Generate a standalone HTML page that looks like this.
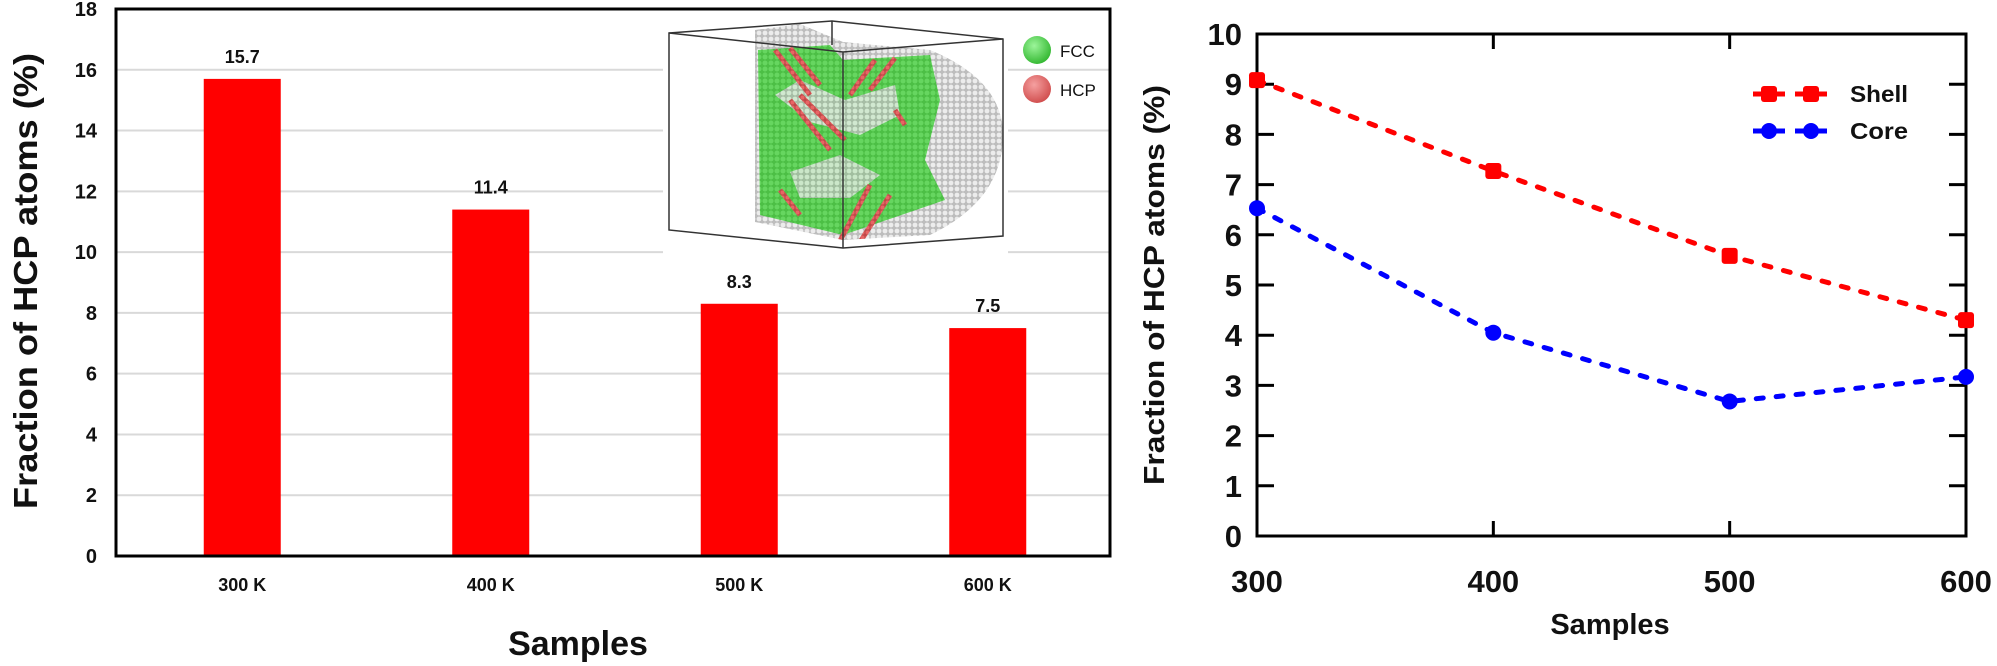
<!DOCTYPE html>
<html><head><meta charset="utf-8"><style>
html,body{margin:0;padding:0;background:#fff;}
svg{display:block;font-family:"Liberation Sans",sans-serif;font-weight:bold;}
</style></head><body>
<svg id="fig" width="1997" height="666" viewBox="0 0 1997 666" xmlns="http://www.w3.org/2000/svg">
<defs>
<pattern id="greyAtoms" width="6" height="6" patternUnits="userSpaceOnUse"><rect width="6" height="6" fill="#bdbdbd"/><circle cx="3" cy="3" r="2.4" fill="#ececec"/></pattern>
<pattern id="greenAtoms" width="6" height="6" patternUnits="userSpaceOnUse"><rect width="6" height="6" fill="#4cbf45"/><circle cx="3" cy="3" r="2.5" fill="#66d660"/></pattern>
<pattern id="redAtoms" width="5" height="5" patternUnits="userSpaceOnUse"><rect width="5" height="5" fill="#c04848"/><circle cx="2.5" cy="2.5" r="2" fill="#e86464"/></pattern>
<radialGradient id="gBall" cx="0.4" cy="0.35" r="0.7"><stop offset="0" stop-color="#9cf59a"/><stop offset="1" stop-color="#2fb52d"/></radialGradient>
<radialGradient id="rBall" cx="0.4" cy="0.35" r="0.7"><stop offset="0" stop-color="#f5a0a0"/><stop offset="1" stop-color="#cf4a4a"/></radialGradient>
<clipPath id="atomClip"><path d="M755,30 L800,24 L843,42 L930,50 Q1003,80 1003,135 Q1003,200 930,235 L843,240 L755,222 Z"/></clipPath>
</defs>
<g id="left"></g>
<g id="inset">
  <rect x="663" y="14" width="345" height="240" fill="#fff"/>
  <g clip-path="url(#atomClip)">
    <rect x="750" y="20" width="260" height="230" fill="url(#greyAtoms)"/>
    <path d="M758,50 L830,45 L843,60 L930,55 L940,100 L925,160 L945,200 L843,235 L760,215 Z" fill="url(#greenAtoms)"/>
    <path d="M775,95 L800,80 L845,100 L895,85 L900,115 L860,135 L810,122 Z" fill="url(#greyAtoms)" opacity="0.8"/>
    <path d="M790,172 L840,155 L880,175 L850,198 L800,198 Z" fill="url(#greyAtoms)" opacity="0.75"/>
    <g stroke="url(#redAtoms)" stroke-width="5">
      <line x1="775" y1="50" x2="810" y2="95"/><line x1="790" y1="48" x2="820" y2="85"/>
      <line x1="790" y1="100" x2="830" y2="150"/><line x1="800" y1="95" x2="845" y2="140"/>
      <line x1="875" y1="60" x2="850" y2="95"/><line x1="895" y1="58" x2="870" y2="90"/>
      <line x1="835" y1="250" x2="870" y2="185"/><line x1="855" y1="250" x2="890" y2="195"/>
      <line x1="780" y1="190" x2="800" y2="215"/><line x1="895" y1="110" x2="905" y2="125"/>
    </g>
  </g>
  <g fill="none" stroke="#333" stroke-width="1.5">
    <path d="M669,33 L832,21 L1003,39 L1003,236 L843,248 L669,230 Z"/>
    <path d="M669,33 L843,52 L1003,39 M843,52 L843,248 M832,21 L832,45"/>
  </g>
  <circle cx="1037" cy="50" r="14" fill="url(#gBall)"/>
  <text x="1060" y="57" font-size="17" font-weight="normal" fill="#111">FCC</text>
  <circle cx="1037" cy="89" r="14" fill="url(#rBall)"/>
  <text x="1060" y="96" font-size="17" font-weight="normal" fill="#111">HCP</text>
</g>
<g id="leftframe"></g>
<g id="right"></g>
</svg>
<script>
const barCats = ["300 K","400 K","500 K","600 K"];
const barVals = [15.7, 11.4, 8.3, 7.5];
const barTicks = [0,2,4,6,8,10,12,14,16,18];
const lineX = [300, 400, 500, 600];
const shellVals = [9.08, 7.27, 5.58, 4.3];
const coreVals = [6.53, 4.05, 2.68, 3.17];
const lineYTicks = [0,1,2,3,4,5,6,7,8,9,10];
const lineXTicks = [300, 400, 500, 600];

const NS = "http://www.w3.org/2000/svg";
function mk(parent, tag, attrs, text){const e=document.createElementNS(NS,tag);for(const k in attrs)e.setAttribute(k,attrs[k]);if(text!==undefined)e.textContent=text;parent.appendChild(e);return e;}

// ---------- Left bar chart ----------
const L = document.getElementById('left');
const LF = document.getElementById('leftframe');
const lx0=116, lx1=1110, ly0=556, ly1=9;
const yB = v => ly0 - (v/18)*(ly0-ly1);
const band = (lx1-lx0)/barCats.length;
const xB = i => lx0 + band*(i+0.5) + 2;
barTicks.forEach(t=>{
  if(t>0 && t<18){
    const g = mk(L,'line',{x1:lx0,x2:lx1,y1:yB(t),y2:yB(t),stroke:'#d9d9d9','stroke-width':2});
    
    
  }
  const tl = mk(L,'text',{x:97,y:yB(t)+7,'font-size':20,'text-anchor':'end',fill:'#111'},String(t));
  
  
});
barVals.forEach((v,i)=>{
  const bw=77;
  const r = mk(L,'rect',{x:xB(i)-bw/2,y:yB(v),width:bw,height:ly0-yB(v),fill:'#ff0000'});
  
  
  const vl = mk(L,'text',{x:xB(i),y:yB(v)-16,'font-size':18,'text-anchor':'middle',fill:'#111'},String(v));
  
  
  const cl = mk(L,'text',{x:xB(i),y:591,'font-size':18,'text-anchor':'middle',fill:'#111'},barCats[i]);
  
  
});
const lf = mk(LF,'rect',{x:lx0,y:ly1,width:lx1-lx0,height:ly0-ly1,fill:'none',stroke:'#000','stroke-width':3});


const lyt = mk(L,'text',{x:0,y:0,'font-size':33,'text-anchor':'middle',fill:'#111',transform:'translate(37,281) rotate(-90)',textLength:456,lengthAdjust:'spacingAndGlyphs'},'Fraction of HCP atoms (%)');


const lxt = mk(L,'text',{x:578,y:655,'font-size':34,'text-anchor':'middle',fill:'#111'},'Samples');



// ---------- Right line chart ----------
const R = document.getElementById('right');
const rx0=1257, rx1=1966, ry0=536, ry1=34;
const xL = v => rx0 + (v-300)/300*(rx1-rx0);
const yL = v => ry0 - (v/10)*(ry0-ry1);
const rf = mk(R,'rect',{x:rx0,y:ry1,width:rx1-rx0,height:ry0-ry1,fill:'none',stroke:'#000','stroke-width':3});


lineYTicks.forEach(t=>{
  if(t>0 && t<10){
    const a = mk(R,'line',{x1:rx0,x2:rx0+17,y1:yL(t),y2:yL(t),stroke:'#000','stroke-width':3});
    
    
    const b = mk(R,'line',{x1:rx1-17,x2:rx1,y1:yL(t),y2:yL(t),stroke:'#000','stroke-width':3});
    
    
  }
  const tl = mk(R,'text',{x:1242,y:yL(t)+11,'font-size':31,'text-anchor':'end',fill:'#111'},String(t));
  
  
});
lineXTicks.forEach(t=>{
  if(t>300 && t<600){
    const a = mk(R,'line',{x1:xL(t),x2:xL(t),y1:ry0,y2:ry0-15,stroke:'#000','stroke-width':3});
    
    
    const b = mk(R,'line',{x1:xL(t),x2:xL(t),y1:ry1,y2:ry1+15,stroke:'#000','stroke-width':3});
    
    
  }
  const tl = mk(R,'text',{x:xL(t),y:592,'font-size':31,'text-anchor':'middle',fill:'#111'},String(t));
  
  
});
function series(vals,color,name,square){
  const pts = vals.map((v,i)=>xL(lineX[i])+','+yL(v)).join(' ');
  const pl = mk(R,'polyline',{points:pts,fill:'none',stroke:color,'stroke-width':5,'stroke-dasharray':'7 13','stroke-linecap':'round'});
  
  
  vals.forEach((v,i)=>{
    let m;
    if(square) m = mk(R,'rect',{x:xL(lineX[i])-8,y:yL(v)-8,width:16,height:16,rx:3,fill:color});
    else m = mk(R,'circle',{cx:xL(lineX[i]),cy:yL(v),r:8,fill:color});
    
    
  });
}
series(shellVals,'#ff0000','shell',true);
series(coreVals,'#0000ff','core',false);
function legend(y,color,label,square,name){
  const g = mk(R,'g',{});
  
  
  mk(g,'line',{x1:1753,x2:1785,y1:y,y2:y,stroke:color,'stroke-width':5});
  mk(g,'line',{x1:1795,x2:1827,y1:y,y2:y,stroke:color,'stroke-width':5});
  [1769,1811].forEach(cx=>{
    if(square) mk(g,'rect',{x:cx-8,y:y-8,width:16,height:16,rx:3,fill:color});
    else mk(g,'circle',{cx:cx,cy:y,r:8,fill:color});
  });
  mk(g,'text',{x:1850,y:y+8,'font-size':23,fill:'#111',textLength:58,lengthAdjust:'spacingAndGlyphs'},label);
}
legend(94,'#ff0000','Shell',true,'shell');
legend(131,'#0000ff','Core',false,'core');
const ryt = mk(R,'text',{x:0,y:0,'font-size':29,'text-anchor':'middle',fill:'#111',transform:'translate(1164,285) rotate(-90)',textLength:400,lengthAdjust:'spacingAndGlyphs'},'Fraction of HCP atoms (%)');


const rxt = mk(R,'text',{x:1610,y:634,'font-size':29,'text-anchor':'middle',fill:'#111'},'Samples');


</script>
</body></html>
